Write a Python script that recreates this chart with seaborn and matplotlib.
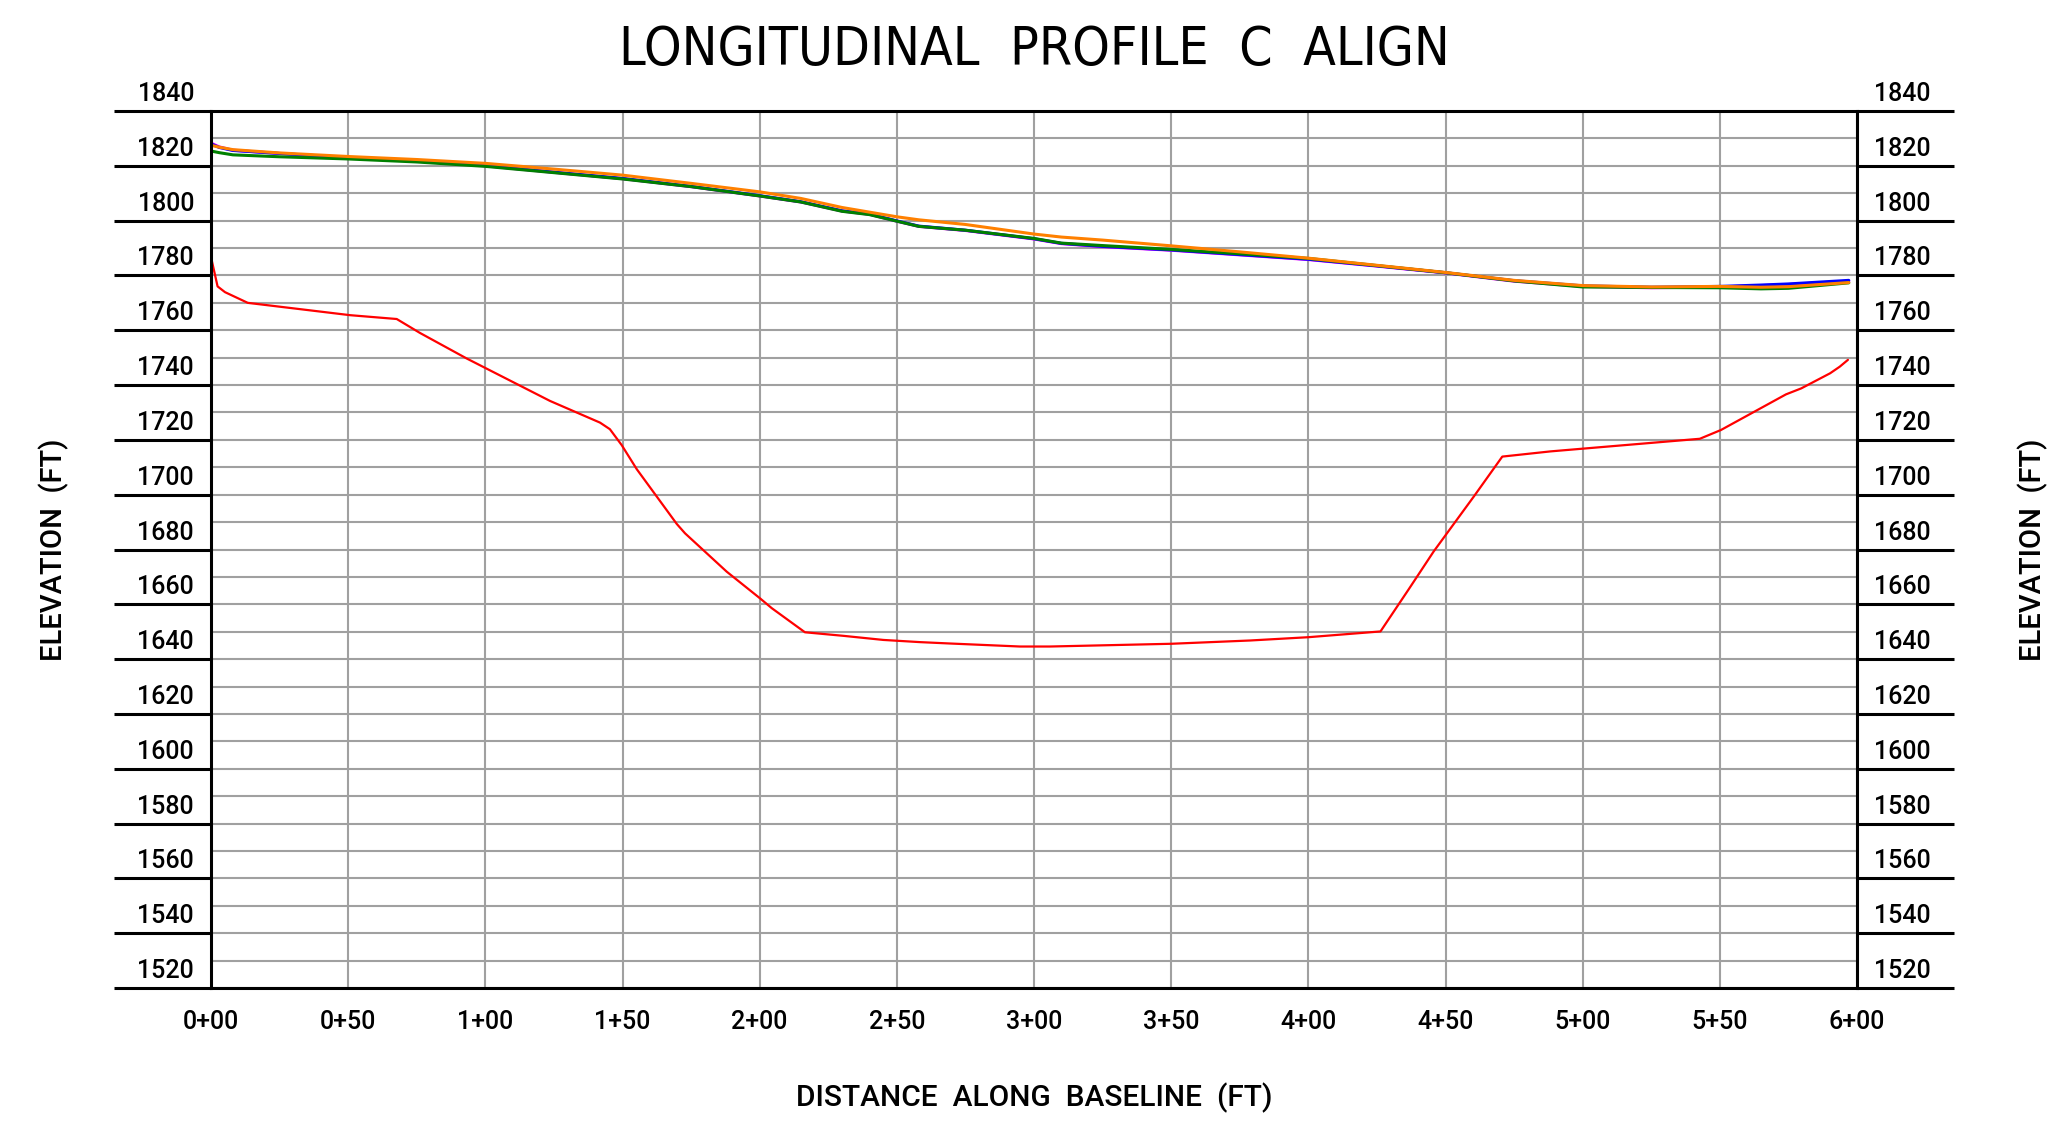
import numpy as np
import pandas as pd
import matplotlib
matplotlib.use("Agg")
import matplotlib.pyplot as plt
import matplotlib.transforms as mtransforms
import seaborn as sns

# stations (ft) for the surface profiles
stations = [0, 3, 8, 25, 50, 75, 100, 125, 150, 175, 200, 215, 230, 240, 250, 258,
            275, 300, 310, 325, 350, 375, 400, 425, 450, 475, 500, 525, 550, 565, 575, 597]

elev_magenta = [1828.3, 1826.9, 1825.7, 1824.5, 1823.0, 1821.7, 1820.0, 1817.6, 1815.3, 1812.4,
                1809.0, 1806.8, 1803.5, 1802.3, 1799.8, 1797.9, 1796.4, 1793.3, 1791.6, 1790.5,
                1789.2, 1787.5, 1785.8, 1783.4, 1780.9, 1777.9, 1776.0, 1775.5, 1775.8, 1776.3,
                1776.7, 1777.9]
elev_blue = [1828.0, 1826.7, 1825.6, 1824.5, 1823.0, 1821.8, 1820.1, 1817.7, 1815.4, 1812.5,
             1809.1, 1806.9, 1803.6, 1802.4, 1799.9, 1798.0, 1796.5, 1793.4, 1791.7, 1790.6,
             1789.3, 1787.6, 1785.9, 1783.5, 1781.0, 1778.1, 1776.2, 1775.7, 1776.0, 1776.5,
             1776.9, 1778.2]
elev_green = [1825.4, 1824.8, 1824.0, 1823.3, 1822.5, 1821.4, 1819.8, 1817.5, 1815.2, 1812.4,
              1809.0, 1806.8, 1803.4, 1802.2, 1799.8, 1797.9, 1796.5, 1793.5, 1791.8, 1790.9,
              1789.5, 1787.9, 1786.2, 1783.6, 1781.0, 1778.0, 1775.8, 1775.6, 1775.5, 1775.1,
              1775.3, 1777.3]
elev_orange = [1827.5, 1826.8, 1825.9, 1824.7, 1823.4, 1822.3, 1820.9, 1818.8, 1816.6, 1813.6,
               1810.5, 1808.1, 1804.8, 1803.1, 1801.4, 1800.3, 1798.6, 1795.1, 1794.0, 1792.9,
               1790.8, 1788.6, 1786.3, 1783.7, 1781.1, 1778.2, 1776.3, 1775.8, 1776.0, 1775.7,
               1775.9, 1777.4]

# red profile
red_stations = [0, 2.4, 5.1, 13.4, 50.7, 67.7, 76.2, 93.2, 123.6, 141.8, 145.4, 149.7, 155.2,
                162.5, 169.8, 172.8, 188.0, 200.1, 204.4, 216.5, 230.5, 245.1, 258.5, 269.4,
                294.9, 305.8, 350, 378.8, 400, 426.3, 436.6, 445.7, 460.3, 470.7, 488.3,
                542.7, 550.4, 574.1, 579.7, 590.2, 593.7, 596.7]
red_elev = [1786.7, 1776.0, 1773.9, 1770.0, 1765.5, 1764.1, 1759.0, 1749.7, 1734.2, 1726.3,
            1723.9, 1718.1, 1709.3, 1699.3, 1689.3, 1685.9, 1671.9, 1662.2, 1658.6, 1649.8,
            1648.5, 1647.0, 1646.2, 1645.7, 1644.6, 1644.6, 1645.6, 1646.8, 1648.0, 1650.1,
            1665.5, 1679.3, 1699.3, 1713.9, 1715.8, 1720.4, 1723.6, 1736.6, 1738.8, 1744.3,
            1746.7, 1749.2]

x_ticks = [0, 50, 100, 150, 200, 250, 300, 350, 400, 450, 500, 550, 600]
x_labels = ["0+00", "0+50", "1+00", "1+50", "2+00", "2+50", "3+00",
            "3+50", "4+00", "4+50", "5+00", "5+50", "6+00"]
y_ticks = list(range(1520, 1841, 20))

sns.set_theme(style="white")
plt.rcParams["font.family"] = ["Roboto", "DejaVu Sans"]

fig = plt.figure(figsize=(20.55, 11.30), dpi=100)
ax = fig.add_axes([211 / 2055, 142 / 1130, 1646 / 2055, 877 / 1130])

# surface lines
surf = pd.DataFrame({
    "station": stations * 4,
    "elev": elev_magenta + elev_blue + elev_green + elev_orange,
    "series": ["m"] * len(stations) + ["b"] * len(stations) + ["g"] * len(stations) + ["o"] * len(stations),
})
sns.lineplot(data=surf, x="station", y="elev", hue="series",
             palette={"m": "#ff00ff", "b": "#0000ff", "g": "#008000", "o": "#ff8000"},
             estimator=None, legend=False, linewidth=2.2, ax=ax, zorder=3)
sns.lineplot(x=red_stations, y=red_elev, color="#ff0000", estimator=None,
             linewidth=1.6, ax=ax, zorder=3)

ax.set_xlim(0, 600)
ax.set_ylim(1520, 1840)
ax.set_xlabel("")
ax.set_ylabel("")

ax.set_xticks(x_ticks)
ax.set_xticklabels(x_labels, fontweight="medium")
ax.set_yticks(y_ticks)
ax.set_yticks(list(range(1530, 1840, 20)), minor=True)
ax.set_yticklabels([])

ax.tick_params(axis="x", length=0, pad=16, labelsize=18, colors="black")
ax.tick_params(axis="y", which="major", left=True, right=True, direction="out",
               length=69.8, width=2.2, color="black")
ax.tick_params(axis="y", which="minor", left=False, right=False, length=0)

ax.grid(True, which="both", color="#a0a0a0", linewidth=1.5)
ax.set_axisbelow(True)
for s in ax.spines.values():
    s.set_color("black")
    s.set_linewidth(2.2)
    s.set_zorder(5)

# elevation labels sit just above their bold tick line
ytrans = mtransforms.offset_copy(ax.get_yaxis_transform(), fig=fig, x=0, y=10, units="dots")
for v in y_ticks:
    ax.text(-0.0103, v, str(v), transform=ytrans, ha="right", va="baseline",
            fontsize=18, fontweight="medium", color="black", clip_on=False)
    ax.text(1.0103, v, str(v), transform=ytrans, ha="left", va="baseline",
            fontsize=18, fontweight="medium", color="black", clip_on=False)

fig.text(0.5032, 0.9555, "LONGITUDINAL  PROFILE  C  ALIGN", ha="center", va="center",
         fontsize=38.3, family=["DejaVu Sans"], fontstretch="condensed",
         fontweight="light", color="black")
fig.text(0.5032, 0.0283, "DISTANCE  ALONG  BASELINE  (FT)", ha="center", va="center",
         fontsize=21.5, fontweight="medium", color="black")
fig.text(0.0263, 0.5133, "ELEVATION  (FT)", rotation=90, ha="center", va="center",
         fontsize=21, fontweight="medium", color="black")
fig.text(0.9893, 0.5133, "ELEVATION  (FT)", rotation=90, ha="center", va="center",
         fontsize=21, fontweight="medium", color="black")

fig.savefig("out.png", dpi=100, facecolor="white")
